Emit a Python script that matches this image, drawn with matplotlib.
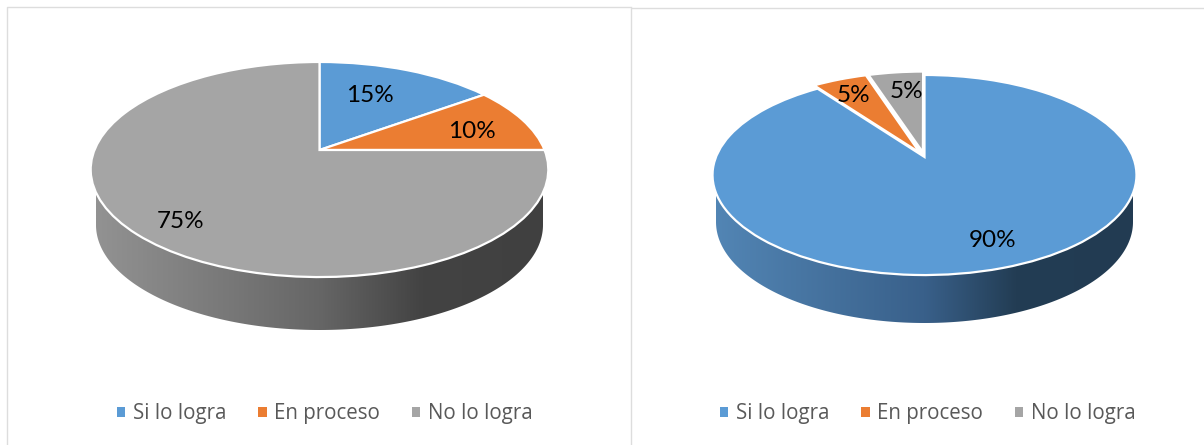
import numpy as np
import matplotlib
matplotlib.use("Agg")
import matplotlib.pyplot as plt
from matplotlib.transforms import Transform
from matplotlib.patches import Polygon, Patch
from matplotlib.colors import LinearSegmentedColormap

categories = ["Si lo logra", "En proceso", "No lo logra"]
values_left = [15, 10, 75]
values_right = [90, 5, 5]
colors = ["#5B9BD5", "#EB7D32", "#A5A5A5"]
explode_left = [0, 0, 0]
explode_right = [0, 0.05, 0.05]


class Perspective(Transform):
    input_dims = output_dims = 2

    def __init__(self, cx, cy, A, B, p):
        super().__init__()
        self.cx, self.cy, self.A, self.B, self.p = cx, cy, A, B, p

    def transform_non_affine(self, xy):
        xy = np.asarray(xy, float)
        w = 1 + self.p * xy[:, 1]
        return np.column_stack([self.cx + self.A * xy[:, 0] / w,
                                self.cy - self.B * xy[:, 1] / w])


fig = plt.figure(figsize=(12.04, 4.45), dpi=100, facecolor="white")
ax = fig.add_axes([0, 0, 1, 1])


def draw_pie(values, explode, cx, cy, A, B, p, top, low, stops, labels, legend_x, columnspacing):
    tr = Perspective(cx, cy, A, B, p)
    wedges, _ = ax.pie(values, startangle=90, counterclock=False, colors=colors,
                       explode=explode, radius=1, center=(0, 0), frame=True,
                       wedgeprops=dict(edgecolor="white", linewidth=1.6))
    for wedge in wedges:
        wedge.set_transform(tr + ax.transData)
        wedge.set_zorder(3)
    # side of the disc: gradient image clipped to the rim outline
    (ta, tyc), (la, lyc, lb) = top, low
    t = np.linspace(np.pi, 2 * np.pi, 200)
    outline = np.vstack([[cx - ta, tyc],
                         np.column_stack([cx + la * np.cos(t), lyc - lb * np.sin(t)]),
                         [cx + ta, tyc]])
    clip = Polygon(outline, closed=True, transform=ax.transData, facecolor="none", edgecolor="none")
    ax.add_patch(clip)
    cmap = LinearSegmentedColormap.from_list("rim", stops)
    im = ax.imshow(np.linspace(0, 1, 512)[None, :], cmap=cmap, aspect="auto",
                   extent=[cx - la, cx + la, lyc + lb + 1, tyc - 1], zorder=2, interpolation="bilinear")
    im.set_clip_path(clip)
    for (lx, ly), v in zip(labels, values):
        ax.text(lx, ly, f"{v}%", ha="center", va="center", fontsize=17.5,
                family="Lato", color="black", zorder=5)
    leg = ax.legend(handles=[Patch(facecolor=c, edgecolor="none", label=n) for c, n in zip(colors, categories)],
                    ncol=3, loc="center", bbox_to_anchor=(legend_x, 414), bbox_transform=ax.transData,
                    frameon=False, prop=dict(family="Open Sans", size=14.8),
                    labelcolor="#595959", handlelength=0.4, handleheight=0.4,
                    handletextpad=0.38, columnspacing=columnspacing, borderpad=0, borderaxespad=0)
    return leg


leg1 = draw_pie(values_left, explode_left, 319.5, 150, 225, 104, 0.1814,
                (229, 169.5), (223.5, 225, 105),
                [(0, "#929292"), (0.5, "#666666"), (0.73, "#434343"), (1, "#404040")],
                [(370, 95), (472, 131.5), (180.4, 221.5)], 325, 1.55)
ax.add_artist(leg1)
leg2 = draw_pie(values_right, explode_right, 924.5, 157, 208.5, 96.8, 0.18,
                (212, 175), (208.5, 222, 101),
                [(0, "#5285B4"), (0.5, "#39608A"), (0.72, "#233D54"), (1, "#223B52")],
                [(992.4, 240.5), (853, 96), (906, 91)], 928, 1.55)

# panel borders
border = "#DDDDDD"
ax.plot([7, 7, 630.5], [445, 7, 7], color=border, lw=1.0, zorder=1)
ax.plot([631, 631, 1204], [445, 7.5, 7.5], color=border, lw=1.0, zorder=1)

ax.set_aspect("auto")
ax.set_xlim(0, 1204)
ax.set_ylim(445, 0)
ax.set_xticks([])
ax.set_yticks([])
for s in ax.spines.values():
    s.set_visible(False)
fig.savefig("out.png", dpi=100)
